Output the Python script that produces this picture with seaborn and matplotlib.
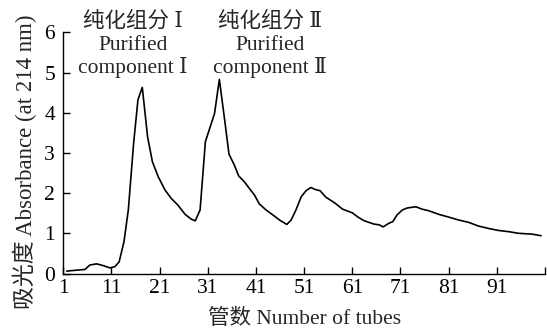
import matplotlib
matplotlib.use("Agg")
import matplotlib.pyplot as plt
import seaborn as sns
import pandas as pd

tubes = [1.7, 3.5, 5.5, 6.5, 7.9, 8.9, 10.7, 11.7, 12.6, 13.6, 14.5, 15.6, 16.5, 17.4,
         18.5, 19.5, 20.7, 22.1, 23.4, 24.8, 26.3, 27.6, 28.4, 29.4, 30.5, 32.4, 33.4,
         34.5, 35.4, 36.5, 37.4, 38.6, 39.8, 40.7, 41.7, 43.1, 44.8, 45.9, 47.4, 48.3,
         49.3, 50.4, 51.4, 52.4, 53.3, 54.3, 55.5, 57.3, 59.0, 61.0, 62.1, 63.5, 65.5,
         66.6, 67.4, 68.6, 69.4, 70.3, 71.4, 72.4, 74.2, 75.5, 76.9, 79.0, 81.1, 83.1,
         85.2, 87.2, 89.3, 91.4, 93.5, 95.5, 98.3, 100.2]
absorbance = [0.06, 0.08, 0.10, 0.21, 0.24, 0.21, 0.14, 0.17, 0.29, 0.79, 1.58, 3.24, 4.32, 4.63,
              3.40, 2.78, 2.41, 2.08, 1.87, 1.70, 1.47, 1.35, 1.31, 1.58, 3.28, 3.98, 4.83,
              3.82, 2.97, 2.70, 2.43, 2.28, 2.09, 1.95, 1.73, 1.58, 1.43, 1.33, 1.22, 1.33,
              1.58, 1.91, 2.06, 2.14, 2.09, 2.06, 1.90, 1.76, 1.60, 1.51, 1.41, 1.31, 1.23,
              1.21, 1.16, 1.25, 1.29, 1.46, 1.58, 1.63, 1.66, 1.60, 1.56, 1.47, 1.40, 1.33,
              1.27, 1.18, 1.12, 1.07, 1.04, 1.00, 0.98, 0.94]

x_ticks = [1, 11, 21, 31, 41, 51, 61, 71, 81, 91, 101]
x_tick_labels = ["1", "11", "21", "31", "41", "51", "61", "71", "81", "91", ""]
y_ticks = [0, 1, 2, 3, 4, 5, 6]

peak_label_lines = [["纯化组分 Ⅰ", "Purified", "component Ⅰ"],
                    ["纯化组分 Ⅱ", "Purified", "component Ⅱ"]]
peak_label_x = [15.5, 43.9]
line_y = [6.15, 5.55, 4.98]

x_label = "管数 Number of tubes"
y_label = "吸光度 Absorbance (at 214 nm)"

sns.set_theme(style="ticks")
fams = ["Liberation Serif", "DejaVu Serif", "Noto Sans CJK SC", "DejaVu Sans"]
plt.rcParams["font.family"] = fams
plt.rcParams["axes.unicode_minus"] = False

df = pd.DataFrame({"tube": tubes, "abs": absorbance})

fig = plt.figure(figsize=(5.47, 3.31), dpi=100)
ax = fig.add_axes([0.1157, 0.1737, 0.8806, 0.7287])
sns.lineplot(data=df, x="tube", y="abs", color="black", linewidth=1.2,
             estimator=None, sort=False, ax=ax)

ax.set_xlim(1, 101)
ax.set_ylim(0, 6)
ax.set_xticks(x_ticks)
ax.set_xticklabels(x_tick_labels)
ax.set_yticks(y_ticks)
ax.tick_params(direction="in", length=5, width=1, labelsize=15.5, colors="black")
ax.tick_params(axis="y", pad=6)
ax.tick_params(axis="x", pad=4)
for s in ["top", "right"]:
    ax.spines[s].set_visible(False)
for s in ["left", "bottom"]:
    ax.spines[s].set_color("black")
    ax.spines[s].set_linewidth(1.0)

ax.set_xlabel(x_label, fontsize=15.5, labelpad=8)
ax.set_ylabel(y_label, fontsize=16.5)
ax.yaxis.set_label_coords(-0.054, 0.462)

for lines, xx in zip(peak_label_lines, peak_label_x):
    for txt, yy in zip(lines, line_y):
        ax.text(xx, yy, txt, ha="center", va="baseline", fontsize=15.5, clip_on=False)

fig.savefig("out.png", dpi=100)
